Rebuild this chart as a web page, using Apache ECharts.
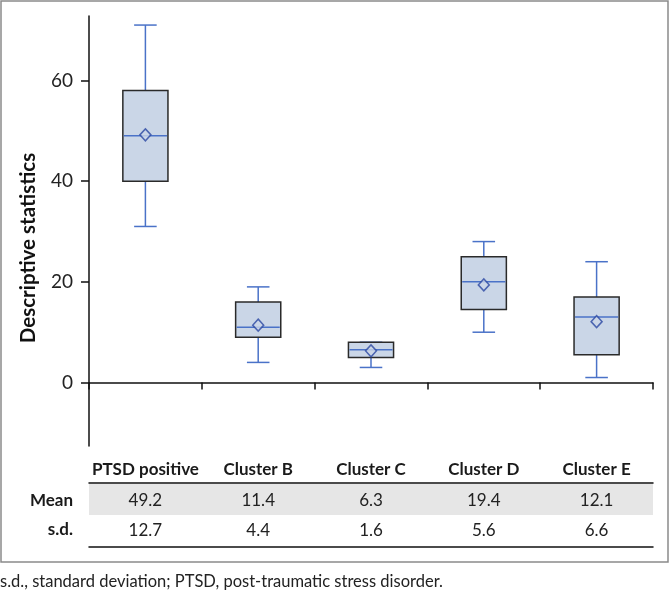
<!DOCTYPE html>
<html>
<head>
<meta charset="utf-8">
<script src="https://cdn.jsdelivr.net/npm/echarts@6/dist/echarts.min.js"></script>
<style>
  html, body { margin: 0; padding: 0; background: #fff; }
  #chart { width: 670px; height: 592px; }
</style>
</head>
<body>
<div id="chart"></div>
<script>
const categories = ["PTSD positive", "Cluster B", "Cluster C", "Cluster D", "Cluster E"];
// [min, Q1, median, Q3, max]
const boxes = [
  [31, 40, 49, 58, 71],
  [4, 9, 11, 16, 19],
  [3, 5, 6.5, 8, 8],
  [10, 14.5, 20, 25, 28],
  [1, 5.5, 13, 17, 24],
];
const means = [49.2, 11.4, 6.3, 19.4, 12.1];
const sds = [12.7, 4.4, 1.6, 5.6, 6.6];
const yTicks = [0, 20, 40, 60];

const FONT = "Lato";
const BLUE = "#4a72c8";
const DARK_BLUE = "#2b47a3";
const FILL = "#cad6e7";

const chart = echarts.init(document.getElementById("chart"));

chart.setOption({
  animation: false,
  textStyle: { fontFamily: FONT },
  grid: { left: 89, right: 17, top: 16, bottom: 146 },
  xAxis: [
    {
      type: "category",
      data: categories,
      position: "bottom",
      axisLine: { lineStyle: { color: "#111", width: 1.5 } },
      axisTick: { show: true, interval: 0, length: 7, lineStyle: { color: "#111", width: 1.5 } },
      axisLabel: { interval: 0, fontSize: 17, fontWeight: "bold", color: "#1a1a1a", margin: 15, fontFamily: FONT },
    },
    {
      type: "category",
      data: means.map((v) => v.toFixed(1)),
      position: "bottom",
      offset: 37,
      axisLine: { lineStyle: { color: "#111", width: 1.5 } },
      axisTick: { show: false },
      axisLabel: { interval: 0, fontSize: 17, color: "#222", margin: 9, fontFamily: FONT },
    },
    {
      type: "category",
      data: sds.map((v) => v.toFixed(1)),
      position: "bottom",
      offset: 101,
      axisLine: { lineStyle: { color: "#111", width: 1.5 } },
      axisTick: { show: false },
      axisLabel: { interval: 0, inside: true, fontSize: 17, color: "#222", margin: 8, fontFamily: FONT },
    },
  ],
  yAxis: {
    type: "value",
    min: -12.6,
    max: 72.8,
    axisLine: { show: true, lineStyle: { color: "#111", width: 1.5 } },
    axisTick: { show: true, length: 8, customValues: yTicks, lineStyle: { color: "#111", width: 1.5 } },
    axisLabel: { fontSize: 19, color: "#222", margin: 16, customValues: yTicks, fontFamily: FONT },
    splitLine: { show: false },
  },
  graphic: [
    {
      type: "rect",
      z: -10,
      shape: { x: 1, y: 1, width: 667, height: 561 },
      style: { fill: null, stroke: "#8a8a8a", lineWidth: 1.5 },
    },
    {
      type: "rect",
      z: -10,
      shape: { x: 89, y: 484, width: 564, height: 31 },
      style: { fill: "#e6e6e6" },
    },
    {
      type: "text",
      x: 28,
      y: 248,
      rotation: Math.PI / 2,
      style: {
        text: "Descriptive statistics",
        fontSize: 20.5,
        fontWeight: "bold",
        fontFamily: FONT,
        fill: "#111",
        align: "center",
        verticalAlign: "middle",
      },
    },
    {
      type: "text",
      x: 73,
      y: 501,
      style: { text: "Mean", fontSize: 17, fontWeight: "bold", fontFamily: FONT, fill: "#1a1a1a", align: "right", verticalAlign: "middle" },
    },
    {
      type: "text",
      x: 73,
      y: 530,
      style: { text: "s.d.", fontSize: 17, fontWeight: "bold", fontFamily: FONT, fill: "#1a1a1a", align: "right", verticalAlign: "middle" },
    },
    {
      type: "text",
      x: 0,
      y: 582,
      style: {
        text: "s.d., standard deviation; PTSD, post-traumatic stress disorder.",
        fontSize: 16.5,
        fontFamily: FONT,
        fill: "#222",
        align: "left",
        verticalAlign: "middle",
      },
    },
  ],
  series: [
    {
      type: "custom",
      xAxisIndex: 0,
      data: boxes.map((b, i) => [i].concat(b)),
      renderItem: function (params, api) {
        const x = api.value(0);
        const lo = api.coord([x, api.value(1)]);
        const q1 = api.coord([x, api.value(2)]);
        const med = api.coord([x, api.value(3)]);
        const q3 = api.coord([x, api.value(4)]);
        const hi = api.coord([x, api.value(5)]);
        const w = api.size([1, 0])[0] * 0.4;
        const cx = lo[0];
        const cap = w / 2;
        const line = (x1, y1, x2, y2, color) => ({
          type: "line",
          shape: { x1: x1, y1: y1, x2: x2, y2: y2 },
          style: { stroke: color, lineWidth: 1.5 },
        });
        return {
          type: "group",
          children: [
            line(cx, hi[1], cx, q3[1], BLUE),
            line(cx, q1[1], cx, lo[1], BLUE),
            line(cx - cap / 2, hi[1], cx + cap / 2, hi[1], BLUE),
            line(cx - cap / 2, lo[1], cx + cap / 2, lo[1], BLUE),
            {
              type: "rect",
              shape: { x: cx - w / 2, y: q3[1], width: w, height: q1[1] - q3[1] },
              style: { fill: FILL, stroke: "#2a2a2a", lineWidth: 1.5 },
            },
            line(cx - w / 2 + 1, med[1], cx + w / 2 - 1, med[1], BLUE),
          ],
        };
      },
    },
    {
      type: "scatter",
      z: 5,
      data: means.map((m, i) => [i, m]),
      symbol: "diamond",
      symbolSize: [11, 12],
      itemStyle: { color: FILL, borderColor: DARK_BLUE, borderWidth: 1.5 },
    },
  ],
});
</script>
</body>
</html>
